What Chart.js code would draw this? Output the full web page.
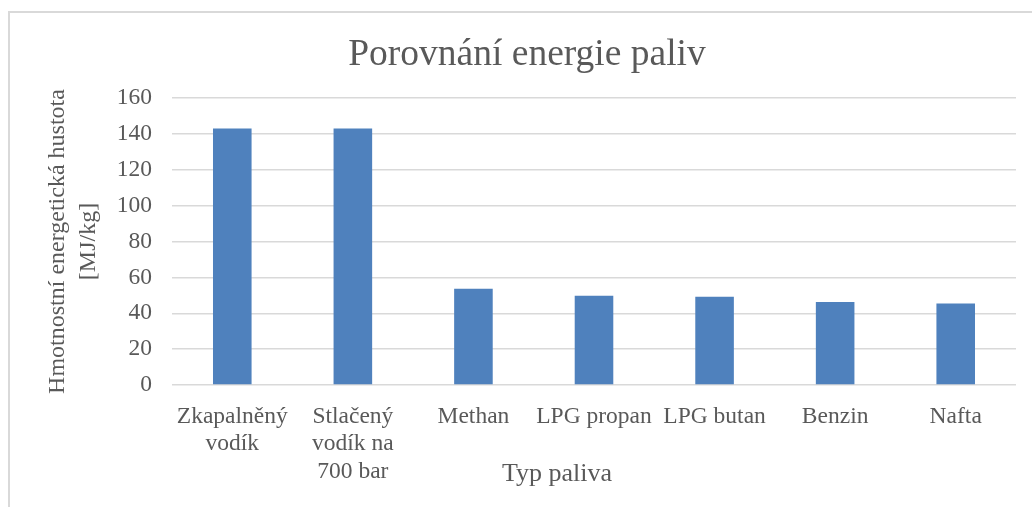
<!DOCTYPE html>
<html><head><meta charset="utf-8">
<script src="https://cdn.jsdelivr.net/npm/chart.js@4/dist/chart.umd.min.js"></script>
<style>
html,body{margin:0;padding:0;background:#fff;overflow:hidden;width:1032px;height:507px}
#frame{position:absolute;left:8px;top:11px;width:1100px;height:600px;border:2px solid #d9d9d9;}
#wrap{position:absolute;left:0;top:0;width:1032px;height:507px}
</style></head><body>
<div id="frame"></div>
<div id="wrap"><canvas id="c"></canvas></div>
<script>
const categories = [["Zkapalněný", "vodík"], ["Stlačený", "vodík na", "700 bar"], "Methan", "LPG propan", "LPG butan", "Benzin", "Nafta"];
const energyValues = [143, 143, 53.6, 49.8, 49.2, 46.3, 45.4];
const yMin = 0, yMax = 160, yStep = 20;
const chartTitle = "Porovnání energie paliv";
const xAxisTitle = "Typ paliva";
const yAxisTitle = ["Hmotnostní energetická hustota", "[MJ/kg]"];

const FONT = '"Liberation Serif", "Times New Roman", serif';
const TEXT = '#595959';

const textPlugin = {
  id: 'texts',
  afterDraw(chart) {
    const ctx = chart.ctx;
    ctx.save();
    ctx.fillStyle = TEXT;
    ctx.textAlign = 'center';
    ctx.textBaseline = 'alphabetic';
    ctx.font = '37.5px ' + FONT;
    ctx.fillText(chartTitle, 527, 65);
    ctx.font = '26px ' + FONT;
    ctx.fillText(xAxisTitle, 557, 481);
    ctx.restore();
  }
};

new Chart(document.getElementById('c'), {
  type: 'bar',
  data: {
    labels: categories,
    datasets: [{
      data: energyValues,
      backgroundColor: '#4f81bd',
      borderWidth: 0,
      categoryPercentage: 1,
      barPercentage: 0.32
    }]
  },
  options: {
    responsive: true,
    maintainAspectRatio: false,
    animation: false,
    devicePixelRatio: 1,
    layout: { padding: { top: 98, right: 16, bottom: 0, left: 0 } },
    plugins: { legend: { display: false }, title: { display: false }, tooltip: { enabled: false } },
    scales: {
      x: {
        grid: { display: false },
        border: { display: false },
        ticks: {
          color: TEXT, font: { family: FONT, size: 23.5, lineHeight: 1.17 },
          padding: 10, maxRotation: 0, minRotation: 0, autoSkip: false
        },
        afterFit(scale) { scale.height = 122; }
      },
      y: {
        min: yMin, max: yMax,
        grid: { color: '#d9d9d9', lineWidth: 1.5, drawTicks: false },
        border: { display: false },
        ticks: { stepSize: yStep, color: TEXT, font: { family: FONT, size: 23.5 }, padding: 20 },
        title: {
          display: true, text: yAxisTitle, color: TEXT,
          font: { family: FONT, size: 24, lineHeight: 1.3 },
          padding: { top: 42, bottom: 0 }
        },
        afterFit(scale) { scale.width = 172; }
      }
    }
  },
  plugins: [textPlugin]
});
</script>
</body></html>
